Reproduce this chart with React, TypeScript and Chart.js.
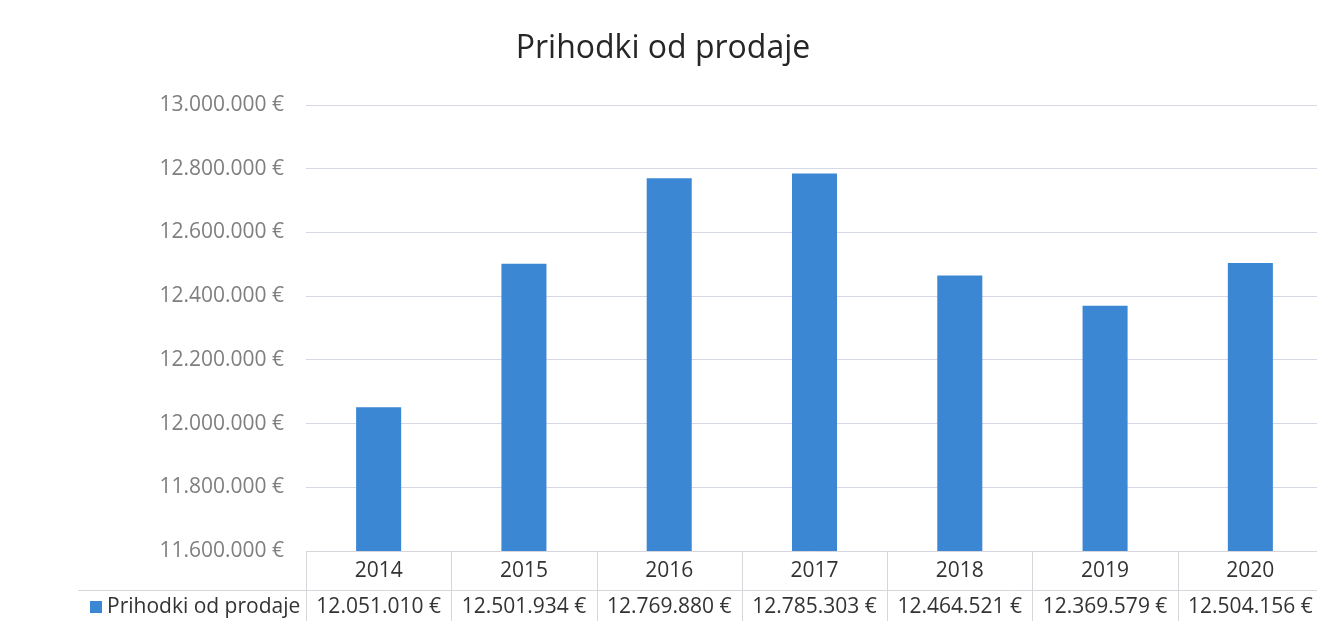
import React, { useEffect, useRef } from "react";
import { Chart, registerables } from "chart.js";

Chart.register(...registerables);

const title = "Prihodki od prodaje";
const seriesName = "Prihodki od prodaje";
const years = ["2014", "2015", "2016", "2017", "2018", "2019", "2020"];
const revenue = [12051010, 12501934, 12769880, 12785303, 12464521, 12369579, 12504156];
const tickMin = 11600000;
const tickMax = 13000000;
const tickStep = 200000;

const BAR = "#3b87d3";
const FONT = "'Open Sans', sans-serif";

const fmt = (v: number) =>
  Math.round(v).toString().replace(/\B(?=(\d{3})+(?!\d))/g, ".") + " €";

export default function App() {
  const ref = useRef<HTMLCanvasElement>(null);
  useEffect(() => {
    const canvas = ref.current!;
    const tablePlugin = {
      id: "tablePlugin",
      afterDraw(chart: any) {
        const ctx = chart.ctx;
        const area = chart.chartArea;
        const xs = chart.scales.x;
        const n = years.length;
        const w = (area.right - area.left) / n;
        const bottom = chart.height;
        const rowSep = area.bottom + 39;
        ctx.save();
        // title
        ctx.fillStyle = "#262626";
        ctx.font = `32px ${FONT}`;
        ctx.textAlign = "center";
        ctx.textBaseline = "middle";
        ctx.fillText(title, 663, 49);
        // lines
        ctx.strokeStyle = "#d6d6dc";
        ctx.lineWidth = 1;
        ctx.beginPath();
        ctx.moveTo(area.left, area.bottom + 0.5);
        ctx.lineTo(area.right, area.bottom + 0.5);
        ctx.moveTo(78, rowSep + 0.5);
        ctx.lineTo(area.right, rowSep + 0.5);
        for (let i = 0; i <= n; i++) {
          const x = Math.round(area.left + i * w) + 0.5;
          ctx.moveTo(x, area.bottom);
          ctx.lineTo(x, bottom);
        }
        ctx.stroke();
        // category labels + values
        ctx.font = `21px ${FONT}`;
        ctx.textAlign = "center";
        ctx.textBaseline = "middle";
        for (let i = 0; i < n; i++) {
          const cx = xs.getPixelForValue(i);
          ctx.fillStyle = "#333333";
          ctx.fillText(years[i], cx, area.bottom + 20);
          ctx.fillText(fmt(revenue[i]), cx, rowSep + 17);
        }
        // legend key
        ctx.fillStyle = BAR;
        ctx.fillRect(90, rowSep + 11, 12, 12);
        ctx.fillStyle = "#333333";
        ctx.textAlign = "left";
        ctx.fillText(seriesName, 107, rowSep + 17);
        ctx.restore();
      },
    };
    const chart = new Chart(canvas, {
      type: "bar",
      data: {
        labels: years,
        datasets: [
          {
            label: seriesName,
            data: revenue,
            backgroundColor: BAR,
            barPercentage: 0.31,
            categoryPercentage: 1,
          },
        ],
      },
      options: {
        responsive: false,
        animation: false,
        layout: { padding: { top: 105, bottom: 70, right: 7, left: 0 } },
        plugins: {
          legend: { display: false },
          title: { display: false },
          tooltip: { enabled: false },
        },
        scales: {
          x: {
            ticks: { display: false },
            grid: { display: false, drawTicks: false },
            border: { display: false },
          },
          y: {
            min: tickMin,
            max: tickMax,
            afterFit: (s: any) => {
              s.width = 306;
            },
            ticks: {
              stepSize: tickStep,
              padding: 22,
              color: "#7f7f7f",
              font: { family: "'Open Sans', sans-serif", size: 21 },
              callback: (v: any) => fmt(Number(v)),
            },
            grid: { color: "#d5d8e6", drawTicks: false, lineWidth: 1 },
            border: { display: false },
          },
        },
      },
      plugins: [tablePlugin],
    });
    return () => chart.destroy();
  }, []);
  return (
    <div
      style={{
        position: "fixed",
        left: 0,
        top: 0,
        width: 1317,
        height: 621,
        overflow: "hidden",
        background: "#ffffff",
      }}
    >
      <canvas ref={ref} width={1330} height={621} style={{ width: 1330, height: 621, display: "block" }} />
    </div>
  );
}
